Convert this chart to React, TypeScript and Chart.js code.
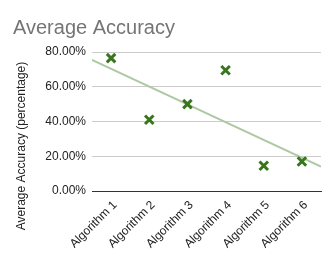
import React, { useEffect, useRef } from "react";
import { Chart, registerables } from "chart.js";

Chart.register(...registerables);

const TITLE = "Average Accuracy";
const Y_TITLE = "Average Accuracy (percentage)";
const categories = ["Algorithm 1", "Algorithm 2", "Algorithm 3", "Algorithm 4", "Algorithm 5", "Algorithm 6"];
const accuracy = [76.5, 41, 50, 69.5, 14.5, 17];
const yTicks = [0, 20, 40, 60, 80];

const FONT = "'Liberation Sans', Arial, sans-serif";

function regression(vals: number[]) {
  const n = vals.length;
  const xs = vals.map((_, i) => i + 1);
  const mx = xs.reduce((a, b) => a + b, 0) / n;
  const my = vals.reduce((a, b) => a + b, 0) / n;
  let num = 0, den = 0;
  xs.forEach((x, i) => { num += (x - mx) * (vals[i] - my); den += (x - mx) * (x - mx); });
  const slope = num / den;
  return (x: number) => my + slope * (x - mx);
}

const yTitlePlugin = {
  id: "yTitle",
  afterDraw(chart: any) {
    const ctx = chart.ctx;
    ctx.save();
    ctx.translate(21.5, 146);
    ctx.rotate(-Math.PI / 2);
    ctx.font = `12px ${FONT}`;
    ctx.fillStyle = "#222222";
    ctx.textAlign = "center";
    ctx.textBaseline = "middle";
    ctx.fillText(Y_TITLE, 0, 0);
    ctx.restore();
  },
};

export default function App() {
  const ref = useRef<HTMLCanvasElement>(null);
  useEffect(() => {
    const f = regression(accuracy);
    const chart = new Chart(ref.current!, {
      type: "line",
      data: {
        labels: categories,
        datasets: [
          {
            data: accuracy,
            showLine: false,
            pointStyle: "crossRot",
            pointRadius: 6,
            pointBorderWidth: 3,
            borderColor: "#38761d",
            backgroundColor: "#38761d",
            order: 1,
          },
          {
            data: [{ x: 0.5, y: f(0.5) }, { x: 6.5, y: f(6.5) }] as any,
            xAxisID: "xTrend",
            borderColor: "rgb(175,200,164)",
            borderWidth: 2,
            pointRadius: 0,
            order: 2,
          } as any,
        ],
      },
      options: {
        animation: false,
        responsive: false,
        layout: { padding: { left: 13, right: 13, top: 0, bottom: 0 } },
        plugins: {
          legend: { display: false },
          tooltip: { enabled: false },
          title: {
            display: true,
            text: TITLE,
            align: "start",
            color: "#757575",
            font: { size: 20, family: FONT, weight: "normal" },
            padding: { top: 16, bottom: 12 },
          },
        },
        scales: {
          x: {
            type: "category",
            offset: true,
            grid: { display: false, drawTicks: false },
            border: { display: true, color: "#333333", width: 1 },
            ticks: {
              minRotation: 45,
              maxRotation: 45,
              padding: 7,
              labelOffset: 4,
              color: "#222222",
              font: { size: 12, family: FONT },
            },
            afterFit: (s: any) => { s.height = 68; },
          },
          xTrend: {
            type: "linear",
            display: false,
            min: 0.5,
            max: 6.5,
          },
          y: {
            min: 0,
            max: 80,
            afterBuildTicks: (s: any) => { s.ticks = yTicks.map((v) => ({ value: v })); },
            grid: {
              drawTicks: false,
              color: (c: any) => (c.tick && c.tick.value === 0 ? "#333333" : "#cccccc"),
            },
            border: { display: false },
            ticks: {
              padding: 6,
              color: "#222222",
              font: { size: 12, family: FONT },
              callback: (v: any) => Number(v).toFixed(2) + "%",
            },
            afterFit: (s: any) => { s.width = 79; },
          },
        },
      },
      plugins: [yTitlePlugin],
    });
    return () => chart.destroy();
  }, []);
  return (
    <div style={{ position: "fixed", left: 0, top: 0, width: 334, height: 259, background: "#fff" }}>
      <canvas ref={ref} width={334} height={259} />
    </div>
  );
}
